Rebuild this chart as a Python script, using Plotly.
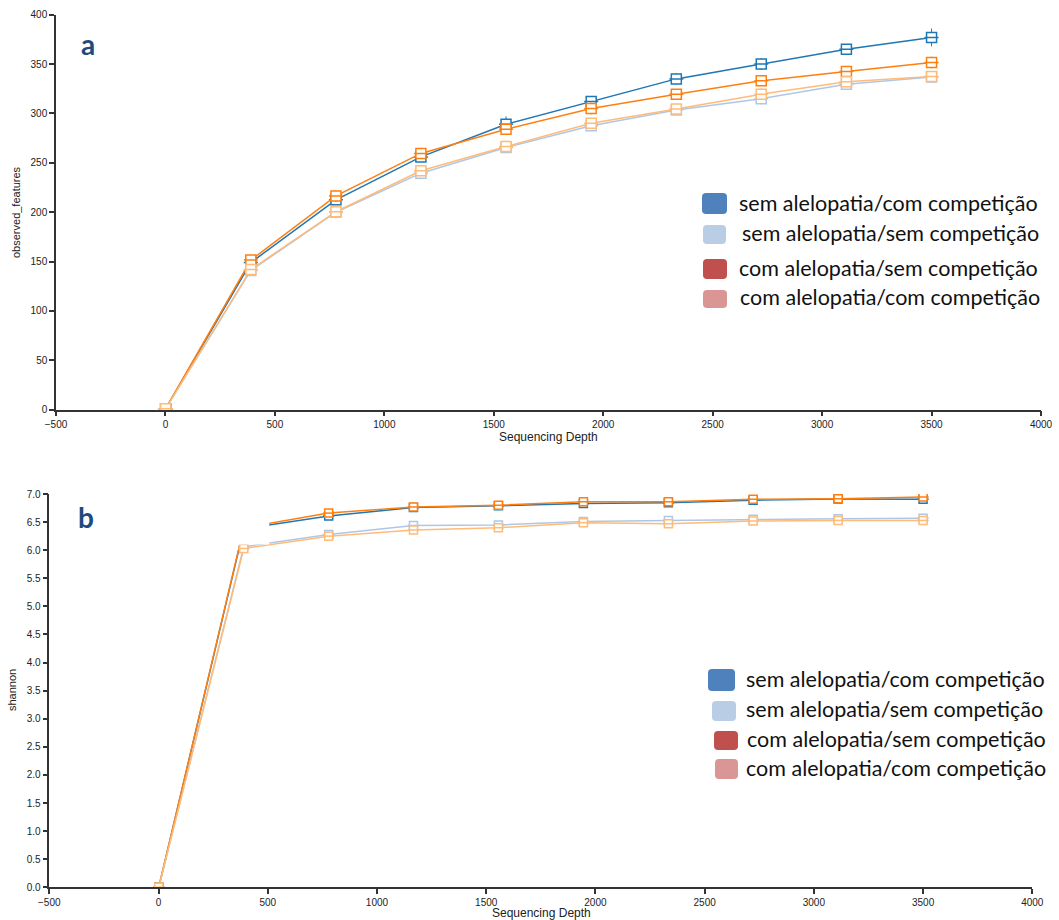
import plotly.graph_objects as go

# Rarefaction depths (x) shared by both panels
depths = [1, 390, 779, 1167, 1556, 1945, 2334, 2722, 3111, 3500]

group_names = [
    "sem alelopatia/com competição",
    "sem alelopatia/sem competição",
    "com alelopatia/sem competição",
    "com alelopatia/com competição",
]

# Line colours of the rarefaction curves
line_colors = ["#1f77b4", "#aec7e8", "#ff7f0e", "#ffbb78"]
# Legend swatch colours
legend_colors = ["#4f81bd", "#b9cde5", "#c0504d", "#d99694"]

# Panel a: observed_features
obs_sem_com = [1, 149, 212.5, 256, 289, 312, 335, 350, 365, 377]
obs_sem_sem = [1, 141, 200, 239.5, 265.5, 287.5, 303.5, 315, 329.5, 337]
obs_com_sem = [1, 151.5, 216.5, 259.5, 284, 305, 319.5, 333, 342.5, 351.5]
obs_com_com = [1, 142, 200.5, 242, 266.5, 290, 304.5, 319.5, 332, 337.5]
obs_err_sem_com = [0, 6, 6, 5, 8, 4, 6, 6, 5, 9]
obs_err_sem_sem = [0, 4, 5, 6, 4, 4, 4, 6, 4, 4]
obs_err_com_sem = [0, 5, 6, 4, 5, 6, 4, 5, 3, 6]
obs_err_com_com = [0, 4, 7, 5, 6, 5, 4, 6, 4, 4]

# Panel b: shannon
sh_sem_com = [0, 6.38, 6.61, 6.76, 6.79, 6.83, 6.845, 6.89, 6.91, 6.905]
sh_sem_sem = [0, 6.06, 6.28, 6.44, 6.45, 6.51, 6.53, 6.55, 6.56, 6.57]
sh_com_sem = [0, 6.40, 6.66, 6.77, 6.80, 6.86, 6.86, 6.905, 6.915, 6.945]
sh_com_com = [0, 6.03, 6.25, 6.36, 6.40, 6.49, 6.47, 6.52, 6.53, 6.53]
sh_err = [0, 0.05, 0.05, 0.04, 0.06, 0.04, 0.04, 0.04, 0.04, 0.04]

W, H = 1059, 920

obs_series = [obs_sem_com, obs_sem_sem, obs_com_sem, obs_com_com]
obs_errs = [obs_err_sem_com, obs_err_sem_sem, obs_err_com_sem, obs_err_com_com]
sh_series = [sh_sem_com, sh_sem_sem, sh_com_sem, sh_com_com]

fig = go.Figure()


def add_curve(ys, errs, col, name, xa, ya, box_w):
    # rarefaction line with whiskers and a small box per depth
    fig.add_trace(go.Scatter(
        x=depths, y=ys, name=name, mode="lines+markers",
        line=dict(color=col, width=1.5),
        marker=dict(symbol="square", size=box_w, color="white", line=dict(width=1.5, color=col)),
        error_y=dict(type="data", array=errs, color=col, thickness=1, width=0),
        xaxis=xa, yaxis=ya, showlegend=False, hoverinfo="skip",
    ))
    # median tick inside each box
    fig.add_trace(go.Scatter(
        x=depths, y=ys, name=name, mode="markers",
        marker=dict(symbol="line-ew", size=box_w, line=dict(width=1.5, color=col)),
        xaxis=xa, yaxis=ya, showlegend=False, hoverinfo="skip",
    ))


for name, ys, errs, col in zip(group_names, obs_series, obs_errs, line_colors):
    add_curve(ys, errs, col, name, "x", "y", 10)

for name, ys, col in zip(group_names, sh_series, line_colors):
    add_curve(ys, sh_err, col, name, "x2", "y2", 8)


def px_x(p):
    return p / W


def px_y(p):
    return 1 - p / H


axis_common = dict(
    showline=True, linecolor="#333", linewidth=1.5,
    ticks="outside", ticklen=5, tickcolor="#333", tickwidth=1.5,
    showgrid=False, zeroline=False, automargin=False,
    tickfont=dict(family="Liberation Sans", size=10, color="#222"),
)

xticks = [-500, 0, 500, 1000, 1500, 2000, 2500, 3000, 3500, 4000]

fig.update_layout(
    width=W, height=H,
    margin=dict(l=0, r=0, t=0, b=0),
    paper_bgcolor="white", plot_bgcolor="white",
    xaxis=dict(axis_common, domain=[px_x(56), px_x(1041)], range=[-500, 4000],
               tickvals=xticks, anchor="y"),
    yaxis=dict(axis_common, domain=[px_y(409.7), px_y(14.7)], range=[0, 400],
               dtick=50, anchor="x"),
    xaxis2=dict(axis_common, domain=[px_x(49.3), px_x(1032.3)], range=[-500, 4000],
                tickvals=xticks, anchor="y2"),
    yaxis2=dict(axis_common, domain=[px_y(887.3), px_y(494)], range=[0, 7],
                dtick=0.5, tickformat=".1f", anchor="x2"),
)

shapes = []
annotations = []

# White panel covering the upper-left corner of panel b
shapes.append(dict(type="rect", xref="x2", yref="y2", x0=-450, x1=507, y0=6.1, y1=7.2,
                   fillcolor="white", line=dict(width=0), layer="above"))


def rounded_rect(x0, y0, x1, y1, r=4):
    # pixel coordinates -> paper path with rounded corners
    rx, ry = r / W, r / H
    X0, X1 = px_x(x0), px_x(x1)
    Y0, Y1 = px_y(y1), px_y(y0)  # Y0 bottom, Y1 top
    return (f"M {X0+rx},{Y0} L {X1-rx},{Y0} Q {X1},{Y0} {X1},{Y0+ry} "
            f"L {X1},{Y1-ry} Q {X1},{Y1} {X1-rx},{Y1} L {X0+rx},{Y1} "
            f"Q {X0},{Y1} {X0},{Y1-ry} L {X0},{Y0+ry} Q {X0},{Y0} {X0+rx},{Y0} Z")


legend_a_boxes = [(702, 193, 727, 214), (703, 225, 726, 244), (703, 259, 727, 279), (703, 290, 727, 308)]
legend_a_text = [(737, 203), (740, 233), (737, 268), (738, 297)]
legend_b_boxes = [(708, 669, 735, 691), (712, 701, 736, 721), (714, 731, 738, 750), (715, 759, 738, 779)]
legend_b_text = [(744, 679), (744, 709), (745, 739), (744, 768)]

for boxes, texts in [(legend_a_boxes, legend_a_text), (legend_b_boxes, legend_b_text)]:
    for (bx0, by0, bx1, by1), (tx, ty), col, name in zip(boxes, texts, legend_colors, group_names):
        shapes.append(dict(type="path", xref="paper", yref="paper",
                           path=rounded_rect(bx0, by0, bx1, by1),
                           fillcolor=col, line=dict(width=0)))
        annotations.append(dict(xref="paper", yref="paper", x=px_x(tx), y=px_y(ty),
                                xanchor="left", yanchor="middle", showarrow=False,
                                text=name, font=dict(family="Lato", size=21.5, color="#111")))

# Panel letters
for label, (lx, ly) in [("a", (88, 44)), ("b", (86, 517))]:
    annotations.append(dict(xref="paper", yref="paper", x=px_x(lx), y=px_y(ly),
                            xanchor="center", yanchor="middle", showarrow=False,
                            text=f"<b>{label}</b>",
                            font=dict(family="Lato", size=28, color="#1f4a7c")))

# Axis titles
title_font = dict(family="Liberation Sans", size=12, color="#222")
for text, (tx, ty), angle, size in [
    ("Sequencing Depth", (548.5, 437), 0, 12),
    ("observed_features", (16, 212), -90, 11),
    ("Sequencing Depth", (541, 913), 0, 12),
    ("shannon", (12, 690), -90, 11),
]:
    annotations.append(dict(xref="paper", yref="paper", x=px_x(tx), y=px_y(ty),
                            xanchor="center", yanchor="middle", showarrow=False,
                            text=text, textangle=angle,
                            font=dict(title_font, size=size)))

fig.update_layout(shapes=shapes, annotations=annotations)

fig.write_html("out.html")
